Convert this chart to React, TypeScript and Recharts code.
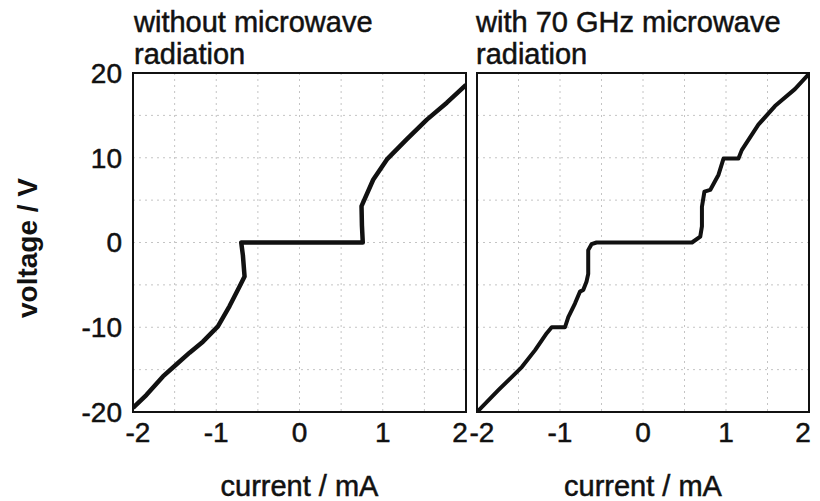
import React from 'react';
import {
  LineChart,
  Line,
  XAxis,
  YAxis,
  CartesianGrid,
  ReferenceArea,
} from 'recharts';

// I-V curves (current in mA, voltage in V)
const leftCurrent = [-2, -1.84, -1.64, -1.48, -1.32, -1.16, -0.98, -0.84, -0.72, -0.66, -0.68, -0.7, -0.4, 0, 0.4, 0.76, 0.75, 0.745, 0.885, 1.05, 1.29, 1.53, 1.77, 2];
const leftVoltage = [-19.5, -18.0, -15.8, -14.4, -13.0, -11.7, -9.9, -7.5, -5.2, -4.0, -1.5, 0, 0, 0, 0, 0, 2.0, 4.3, 7.4, 9.8, 12.2, 14.5, 16.5, 18.6];

const rightCurrent = [-2, -1.74, -1.46, -1.3, -1.16, -1.1, -0.94, -0.9, -0.82, -0.76, -0.72, -0.68, -0.66, -0.66, -0.62, -0.56, 0, 0.59, 0.69, 0.71, 0.71, 0.74, 0.81, 0.91, 0.97, 1.15, 1.19, 1.39, 1.59, 1.83, 2];
const rightVoltage = [-20, -17.4, -14.7, -12.7, -10.7, -10.0, -10.0, -8.8, -7.2, -5.8, -5.6, -4.6, -3.7, -0.9, -0.2, 0, 0, 0, 0.7, 1.9, 4.2, 6.0, 6.2, 8.0, 9.9, 9.9, 10.9, 13.9, 16.1, 18.1, 19.9];

const xTicks = [-2, -1.5, -1, -0.5, 0, 0.5, 1, 1.5, 2];
const yTicks = [-20, -15, -10, -5, 0, 5, 10, 15, 20];

const leftData = leftCurrent.map((x, i) => ({ x, v: leftVoltage[i] }));
const rightData = rightCurrent.map((x, i) => ({ x, v: rightVoltage[i] }));

const FONT = '"Liberation Sans", Arial, sans-serif';
const INK = '#111';
const tickStyle = { fill: INK, stroke: INK, strokeWidth: 0.5, fontSize: 28, fontFamily: FONT };
const tenOnly = (v: number) => (v % 10 === 0 ? String(v) : '');

// x tick labels: integers only, end labels nudged inward like the original
const CurrentTick = ({ x, y, payload }: any) => {
  const v = payload.value;
  if (!Number.isInteger(v)) return null;
  const shift = v === -2 ? 5 : v === 2 ? -6 : 0;
  return (
    <text x={x + shift} y={y} dy="0.71em" textAnchor="middle" {...tickStyle}>
      {String(v)}
    </text>
  );
};

const titleStyle: React.CSSProperties = {
  position: 'absolute',
  top: 6,
  fontFamily: FONT,
  fontSize: 29,
  lineHeight: '32px',
  color: INK,
  whiteSpace: 'pre',
  WebkitTextStroke: '0.5px #111',
};

const Panel = ({ data, yVisible, margin, strokeWidth }: any) => (
  <LineChart width={820} height={501} data={data} margin={margin}>
    <CartesianGrid stroke="#c4c4c4" strokeDasharray="2 4" />
    <XAxis
      dataKey="x"
      type="number"
      domain={[-2, 2]}
      ticks={xTicks}
      interval={0}
      allowDataOverflow
      tick={<CurrentTick />}
      tickLine={false}
      axisLine={false}
      tickSize={6}
      tickMargin={4}
      height={58}
      label={{ value: 'current / mA', position: 'bottom', offset: 5, fill: INK, stroke: INK, strokeWidth: 0.5, fontSize: 29, fontFamily: FONT }}
    />
    <YAxis
      type="number"
      domain={[-20, 20]}
      ticks={yTicks}
      interval={0}
      allowDataOverflow
      tickFormatter={tenOnly}
      tick={tickStyle}
      tickLine={false}
      axisLine={false}
      tickSize={6}
      tickMargin={5}
      width={60}
      hide={!yVisible}
    />
    <Line
      type="linear"
      dataKey="v"
      stroke={INK}
      strokeWidth={strokeWidth}
      strokeLinejoin="round"
      dot={false}
      isAnimationActive={false}
    />
    <ReferenceArea x1={-2} x2={2} y1={-20} y2={20} fill="none" fillOpacity={0} stroke={INK} strokeWidth={2} />
  </LineChart>
);

export default function App() {
  return (
    <div style={{ position: 'absolute', left: 0, top: 0, width: 820, height: 501, background: '#fff', overflow: 'hidden' }}>
      <div style={{ ...titleStyle, left: 134 }}>{'without microwave\nradiation'}</div>
      <div style={{ ...titleStyle, left: 476 }}>{'with 70 GHz microwave\nradiation'}</div>
      <div
        style={{
          position: 'absolute',
          left: 28,
          top: 248,
          transform: 'translate(-50%, -50%) rotate(-90deg)',
          fontFamily: FONT,
          fontSize: 28,
          fontWeight: 'bold',
          color: INK,
          whiteSpace: 'nowrap',
        }}
      >
        voltage / V
      </div>
      <div style={{ position: 'absolute', left: 0, top: 0 }}>
        <Panel data={leftData} yVisible strokeWidth={4.5} margin={{ top: 73, right: 354, bottom: 31, left: 73 }} />
      </div>
      <div style={{ position: 'absolute', left: 0, top: 0 }}>
        <Panel data={rightData} yVisible={false} strokeWidth={4} margin={{ top: 73, right: 11, bottom: 31, left: 477 }} />
      </div>
    </div>
  );
}
